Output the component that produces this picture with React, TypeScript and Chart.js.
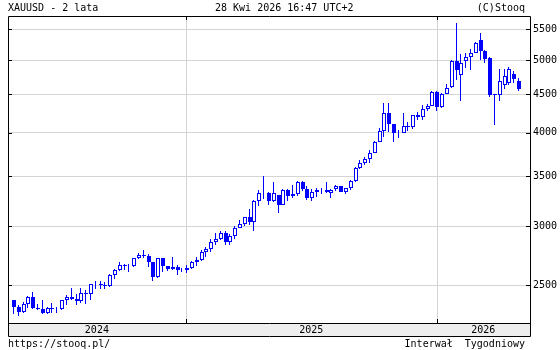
import { useEffect, useRef } from "react";
import { Chart, registerables } from "chart.js";

Chart.register(...registerables);

// Week (Friday) dates of each weekly candle
const WEEKS = [
  "2024-04-26", "2024-05-03", "2024-05-10", "2024-05-17", "2024-05-24", "2024-05-31",
  "2024-06-07", "2024-06-14", "2024-06-21", "2024-06-28", "2024-07-05", "2024-07-12",
  "2024-07-19", "2024-07-26", "2024-08-02", "2024-08-09", "2024-08-16", "2024-08-23",
  "2024-08-30", "2024-09-06", "2024-09-13", "2024-09-20", "2024-09-27", "2024-10-04",
  "2024-10-11", "2024-10-18", "2024-10-25", "2024-11-01", "2024-11-08", "2024-11-15",
  "2024-11-22", "2024-11-29", "2024-12-06", "2024-12-13", "2024-12-20", "2024-12-27",
  "2025-01-03", "2025-01-10", "2025-01-17", "2025-01-24", "2025-01-31", "2025-02-07",
  "2025-02-14", "2025-02-21", "2025-02-28", "2025-03-07", "2025-03-14", "2025-03-21",
  "2025-03-28", "2025-04-04", "2025-04-11", "2025-04-18", "2025-04-25", "2025-05-02",
  "2025-05-09", "2025-05-16", "2025-05-23", "2025-05-30", "2025-06-06", "2025-06-13",
  "2025-06-20", "2025-06-27", "2025-07-04", "2025-07-11", "2025-07-18", "2025-07-25",
  "2025-08-01", "2025-08-08", "2025-08-15", "2025-08-22", "2025-08-29", "2025-09-05",
  "2025-09-12", "2025-09-19", "2025-09-26", "2025-10-03", "2025-10-10", "2025-10-17",
  "2025-10-24", "2025-10-31", "2025-11-07", "2025-11-14", "2025-11-21", "2025-11-28",
  "2025-12-05", "2025-12-12", "2025-12-19", "2025-12-26", "2026-01-02", "2026-01-09",
  "2026-01-16", "2026-01-23", "2026-01-30", "2026-02-06", "2026-02-13", "2026-02-20",
  "2026-02-27", "2026-03-06", "2026-03-13", "2026-03-20", "2026-03-27", "2026-04-03",
  "2026-04-10", "2026-04-17", "2026-04-24", "2026-05-01",
];

const OPEN = [
  2390, 2338, 2301, 2360, 2415, 2334, 2327, 2293, 2333, 2328, 2326, 2391,
  2411, 2400, 2386, 2443, 2431, 2507, 2512, 2503, 2497, 2578, 2622, 2658,
  2653, 2656, 2721, 2747, 2736, 2685, 2563, 2716, 2650, 2633, 2648, 2622,
  2621, 2640, 2690, 2702, 2770, 2800, 2861, 2882, 2935, 2858, 2910, 2984,
  3022, 3084, 3037, 3237, 3327, 3319, 3240, 3300, 3203, 3357, 3289, 3310,
  3432, 3368, 3274, 3337, 3355, 3350, 3320, 3363, 3398, 3335, 3371, 3448,
  3586, 3643, 3685, 3760, 3886, 4018, 4250, 4113, 4002, 4000, 4085, 4065,
  4218, 4198, 4300, 4340, 4530, 4330, 4510, 4600, 4995, 4785, 4995, 5045,
  5120, 5325, 5140, 5035, 4500, 4490, 4640, 4662, 4790, 4695,
];

const HIGH = [
  2393, 2352, 2378, 2422, 2450, 2364, 2388, 2342, 2368, 2340, 2392, 2424,
  2483, 2432, 2477, 2462, 2509, 2531, 2531, 2529, 2586, 2626, 2685, 2672,
  2670, 2721, 2758, 2790, 2750, 2686, 2721, 2721, 2657, 2726, 2664, 2638,
  2665, 2697, 2726, 2786, 2817, 2886, 2942, 2955, 2956, 2930, 3004, 3057,
  3086, 3167, 3249, 3358, 3500, 3330, 3435, 3305, 3366, 3365, 3403, 3446,
  3452, 3398, 3365, 3369, 3375, 3439, 3363, 3409, 3400, 3378, 3453, 3600,
  3674, 3707, 3791, 3897, 4059, 4380, 4381, 4115, 4030, 4245, 4132, 4226,
  4264, 4353, 4375, 4550, 4550, 4520, 4645, 5000, 5600, 5100, 5115, 5175,
  5285, 5440, 5160, 5050, 4510, 4870, 4870, 4897, 4842, 4740,
];

const LOW = [
  2292, 2277, 2297, 2334, 2325, 2321, 2287, 2286, 2295, 2293, 2319, 2353,
  2393, 2353, 2369, 2364, 2392, 2470, 2471, 2472, 2485, 2547, 2615, 2625,
  2603, 2645, 2708, 2722, 2643, 2537, 2560, 2605, 2613, 2622, 2583, 2603,
  2597, 2633, 2657, 2697, 2730, 2772, 2833, 2878, 2833, 2832, 2880, 2980,
  3000, 3015, 2957, 3194, 3260, 3202, 3236, 3120, 3200, 3245, 3275, 3294,
  3340, 3255, 3246, 3283, 3309, 3325, 3268, 3348, 3331, 3311, 3351, 3436,
  3579, 3627, 3640, 3759, 3884, 3947, 4004, 3886, 3930, 3995, 4022, 4040,
  4164, 4163, 4271, 4338, 4275, 4310, 4505, 4595, 4710, 4405, 4880, 4850,
  5115, 5000, 4965, 4470, 4100, 4415, 4580, 4637, 4662, 4550,
];

const CLOSE = [
  2338, 2301, 2360, 2415, 2334, 2327, 2293, 2333, 2322, 2324, 2391, 2411,
  2400, 2386, 2443, 2431, 2507, 2512, 2503, 2497, 2578, 2622, 2658, 2653,
  2656, 2721, 2747, 2736, 2685, 2563, 2716, 2650, 2633, 2648, 2622, 2621,
  2640, 2690, 2702, 2770, 2800, 2861, 2882, 2935, 2858, 2910, 2984, 3022,
  3084, 3037, 3237, 3327, 3319, 3240, 3325, 3203, 3357, 3289, 3310, 3432,
  3368, 3274, 3337, 3355, 3350, 3337, 3358, 3398, 3335, 3371, 3448, 3586,
  3643, 3685, 3760, 3886, 4018, 4250, 4113, 4002, 4000, 4085, 4065, 4218,
  4198, 4300, 4340, 4530, 4330, 4510, 4595, 4990, 4850, 4955, 5050, 5110,
  5280, 5150, 5025, 4490, 4490, 4685, 4760, 4867, 4725, 4570,
];

const Y_TICKS = [2500, 3000, 3500, 4000, 4500, 5000, 5500];
const YEAR_LABELS = ["2024", "2025", "2026"];
const YEAR_STARTS = ["2025-01-01", "2026-01-01"];

const BLUE = "#0000ff";
const GRID = "#d4d4d4";
const FONT = "'DejaVu Sans Mono', monospace";

const DAY = 86400000;
const t0 = Date.parse(WEEKS[0]);
const weekIdx = (d: string) => (Date.parse(d) - t0) / (7 * DAY);
const X_MIN = -1.25;
const X_MAX = 107.28;
const BOUNDS = YEAR_STARTS.map(weekIdx);
const EDGES = [X_MIN, ...BOUNDS, X_MAX];
const MIDS = YEAR_LABELS.map((_, i) => (EDGES[i] + EDGES[i + 1]) / 2);

const framePlugin = {
  id: "frame",
  beforeDraw(chart: any) {
    const { ctx, chartArea: a } = chart;
    const xs = chart.scales.x;
    ctx.save();
    ctx.fillStyle = "#ffffff";
    ctx.fillRect(0, 0, chart.width, chart.height);
    ctx.fillStyle = "#eeeeee";
    ctx.fillRect(a.left, a.bottom, a.right - a.left, xs.bottom - a.bottom);
    ctx.restore();
  },
  beforeDatasetsDraw(chart: any) {
    const { ctx, chartArea: a } = chart;
    const xs = chart.scales.x;
    // vertical year-boundary grid lines
    ctx.save();
    ctx.strokeStyle = GRID;
    ctx.lineWidth = 1;
    ctx.beginPath();
    for (const b of BOUNDS) {
      const x = Math.round(xs.getPixelForValue(b)) + 0.5;
      ctx.moveTo(x, a.top);
      ctx.lineTo(x, a.bottom);
    }
    ctx.stroke();
    ctx.restore();
    // snap candle elements to whole pixels for crisp edges
    chart.data.datasets.forEach((_: any, di: number) => {
      const meta = chart.getDatasetMeta(di);
      meta.data.forEach((el: any) => {
        const cx = Math.round(el.x);
        el.x = di === 0 ? cx : cx - 0.5;
        el.y = Math.round(el.y);
        el.base = Math.round(el.base);
      });
    });
  },
  afterDraw(chart: any) {
    const { ctx, chartArea: a } = chart;
    const xs = chart.scales.x;
    const ys = chart.scales.y;
    const L = a.left + 0.5;
    const R = a.right + 0.5;
    const T = a.top + 0.5;
    const B = a.bottom + 0.5;
    const BB = xs.bottom + 0.5;
    ctx.save();
    ctx.strokeStyle = "#000000";
    ctx.lineWidth = 1;
    ctx.beginPath();
    ctx.moveTo(L, T); ctx.lineTo(R, T);
    ctx.moveTo(L, T); ctx.lineTo(L, BB);
    ctx.moveTo(R, T); ctx.lineTo(R, BB);
    ctx.moveTo(L, B); ctx.lineTo(R, B);
    ctx.moveTo(L, BB); ctx.lineTo(R, BB);
    for (const v of Y_TICKS) {
      const y = Math.round(ys.getPixelForValue(v)) + 0.5;
      ctx.moveTo(a.left, y); ctx.lineTo(a.left + 4, y);
      ctx.moveTo(a.right - 4, y); ctx.lineTo(a.right + 1, y);
    }
    for (const b of BOUNDS) {
      const x = Math.round(xs.getPixelForValue(b)) + 0.5;
      ctx.moveTo(x, a.top); ctx.lineTo(x, a.top + 4);
      ctx.moveTo(x, a.bottom); ctx.lineTo(x, a.bottom - 4);
    }
    ctx.stroke();
    ctx.restore();
  },
};

export default function App() {
  const ref = useRef<HTMLCanvasElement>(null);

  useEffect(() => {
    if (!ref.current) return;
    const bodies = WEEKS.map((_, i) => ({ x: i, y: [OPEN[i], CLOSE[i]] }));
    const wicks = WEEKS.map((_, i) => ({ x: i, y: [LOW[i], HIGH[i]] }));
    const fills = WEEKS.map((_, i) => (CLOSE[i] >= OPEN[i] ? "#ffffff" : BLUE));

    const chart = new Chart(ref.current, {
      type: "bar",
      data: {
        datasets: [
          {
            data: bodies as any,
            backgroundColor: fills,
            borderColor: BLUE,
            borderWidth: 1,
            borderSkipped: false,
            barThickness: 4,
            grouped: false,
            inflateAmount: 0,
            order: 0,
          } as any,
          {
            data: wicks as any,
            backgroundColor: BLUE,
            borderWidth: 0,
            barThickness: 1,
            grouped: false,
            inflateAmount: 0,
            order: 1,
          } as any,
        ],
      },
      options: {
        animation: false,
        responsive: false,
        devicePixelRatio: 1,
        layout: { padding: { left: 8, top: 16, right: 0, bottom: 14 } },
        plugins: { legend: { display: false }, tooltip: { enabled: false }, title: { display: false } },
        scales: {
          x: {
            type: "linear",
            min: X_MIN,
            max: X_MAX,
            offset: false,
            border: { display: false },
            grid: { display: false, drawTicks: false },
            afterBuildTicks: (s: any) => {
              s.ticks = MIDS.map((v) => ({ value: v }));
            },
            afterFit: (s: any) => {
              s.height = 13;
            },
            ticks: {
              autoSkip: false,
              maxRotation: 0,
              padding: 1,
              color: "#000000",
              font: { family: FONT, size: 10 },
              callback: (v: any) => {
                const k = MIDS.findIndex((m) => Math.abs(m - Number(v)) < 1e-6);
                return k >= 0 ? YEAR_LABELS[k] : "";
              },
            },
          },
          y: {
            type: "logarithmic",
            position: "right",
            min: 2226.5,
            max: 5730,
            border: { display: false },
            grid: { drawTicks: false, color: GRID },
            afterBuildTicks: (s: any) => {
              s.ticks = Y_TICKS.map((v) => ({ value: v }));
            },
            afterFit: (s: any) => {
              s.width = 30;
            },
            ticks: {
              autoSkip: false,
              padding: 3,
              color: "#000000",
              font: { family: FONT, size: 10 },
              callback: (v: any) => String(v),
            },
          },
        },
      },
      plugins: [framePlugin],
    });
    return () => chart.destroy();
  }, []);

  const text: any = {
    position: "absolute",
    fontFamily: FONT,
    fontSize: "10px",
    lineHeight: "12px",
    color: "#000",
    whiteSpace: "pre",
  };

  return (
    <div style={{ position: "fixed", left: 0, top: 0, width: 560, height: 350, background: "#fff", overflow: "hidden" }}>
      <canvas ref={ref} width={560} height={350} style={{ position: "absolute", left: 0, top: 0, width: 560, height: 350 }} />
      <div style={{ ...text, left: 8, top: 2 }}>XAUUSD - 2 lata</div>
      <div style={{ ...text, left: 215, top: 2 }}>28 Kwi 2026 16:47 UTC+2</div>
      <div style={{ ...text, right: 35, top: 2 }}>(C)Stooq</div>
      <div style={{ ...text, left: 8, top: 338 }}>https://stooq.pl/</div>
      <div style={{ ...text, right: 35, top: 338 }}>Interwał  Tygodniowy</div>
    </div>
  );
}
